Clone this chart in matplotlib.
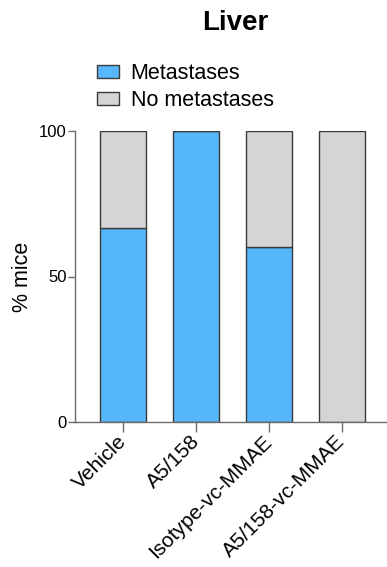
import matplotlib
matplotlib.use("Agg")
import matplotlib.pyplot as plt
import numpy as np

plt.rcParams['font.family'] = ['Liberation Sans', 'DejaVu Sans']

# percentage of mice per group
groups = ["Vehicle", "A5/158", "Isotype-vc-MMAE", "A5/158-vc-MMAE"]
metastases = [66.7, 100, 60, 0]
no_metastases = [100 - v for v in metastases]

BLUE = "#56B7FA"
GRAY = "#D5D5D5"
EDGE = "#3a3a3a"
AXIS = "#6b6b6b"

fig = plt.figure(figsize=(3.87, 5.67), dpi=100)
ax = fig.add_axes([75 / 387, 1 - 422 / 567, 311 / 387, 291 / 567])

x = np.arange(len(groups))
w = 0.63
ax.bar(x, metastases, w, color=BLUE, edgecolor=EDGE, linewidth=1, label="Metastases")
ax.bar(x, no_metastases, w, bottom=metastases, color=GRAY, edgecolor=EDGE,
       linewidth=1, label="No metastases")

ax.set_xlim(-0.664, 3.6)
ax.set_ylim(0, 100)
ax.set_yticks([0, 50, 100])
ax.set_xticks(x)
ax.set_xticklabels(groups, rotation=45, ha="right", va="center",
                   rotation_mode="anchor", fontsize=15)
ax.tick_params(axis="y", labelsize=12, length=5, width=1, color=AXIS, pad=1)
ax.tick_params(axis="x", length=7, width=1, color=AXIS, pad=5)
ax.set_ylabel("% mice", fontsize=15.5, labelpad=4)

for side in ("top", "right"):
    ax.spines[side].set_visible(False)
for side in ("left", "bottom"):
    ax.spines[side].set_color(AXIS)
    ax.spines[side].set_linewidth(1)

fig.text(235 / 387, 1 - 23 / 567, "Liver", ha="center", va="center",
         fontsize=20, fontweight="bold")

fig.legend(loc="upper left", bbox_to_anchor=(97 / 387, 1 - 63 / 567), frameon=False,
           fontsize=15.5, handlelength=1.0, handleheight=0.55, handletextpad=0.56,
           labelspacing=0.3, borderaxespad=0, borderpad=0)

fig.savefig("out.png", dpi=100)
